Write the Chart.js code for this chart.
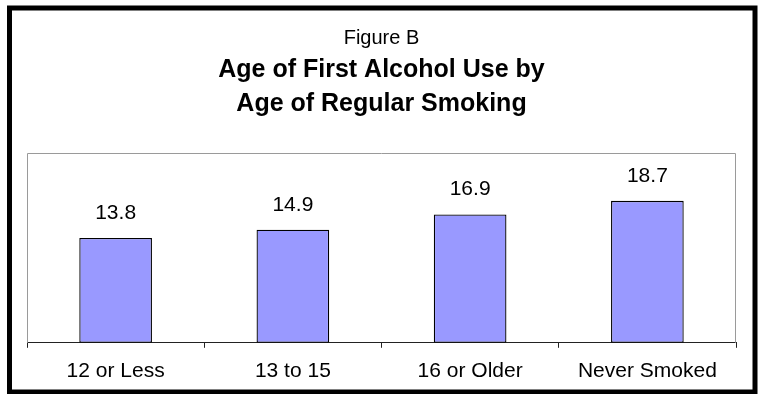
<!DOCTYPE html>
<html>
<head>
<meta charset="utf-8">
<script src="https://cdn.jsdelivr.net/npm/chart.js@4.4.1/dist/chart.umd.min.js"></script>
<style>
  html, body { margin: 0; padding: 0; background: #fff; }
  #wrap { width: 767px; height: 394px; }
</style>
</head>
<body>
<div id="wrap"><canvas id="c" width="767" height="394"></canvas></div>
<script>
// Age at first alcohol use, grouped by the age regular smoking began
const categories = ['12 or Less', '13 to 15', '16 or Older', 'Never Smoked'];
const ageFirstAlcohol = [13.8, 14.9, 16.9, 18.7];
const figureLabel = 'Figure B';
const titleLines = ['Age of First Alcohol Use by', 'Age of Regular Smoking'];

const FONT = "'Liberation Sans', Arial, sans-serif";

// White page, thick black outer frame and grey plot frame
const framePlugin = {
  id: 'frame',
  beforeDraw(chart) {
    const ctx = chart.ctx;
    ctx.save();
    ctx.fillStyle = '#fff';
    ctx.fillRect(0, 0, chart.width, chart.height);
    ctx.restore();
  },
  afterDatasetsDraw(chart) {
    const { ctx, chartArea: a } = chart;
    ctx.save();
    ctx.strokeStyle = '#9a9a9a';
    ctx.lineWidth = 1;
    ctx.beginPath();
    ctx.moveTo(a.left + 0.5, a.bottom);
    ctx.lineTo(a.left + 0.5, a.top + 0.5);
    ctx.lineTo(a.right - 0.5, a.top + 0.5);
    ctx.lineTo(a.right - 0.5, a.bottom);
    ctx.stroke();
    ctx.restore();
  },
  afterDraw(chart) {
    const ctx = chart.ctx;
    ctx.save();
    ctx.strokeStyle = '#000';
    ctx.lineWidth = 5;
    ctx.strokeRect(9.5, 8, 745.5, 384);
    ctx.restore();
  }
};

// Value printed above each bar
const valueLabels = {
  id: 'valueLabels',
  afterDatasetsDraw(chart) {
    const ctx = chart.ctx;
    const meta = chart.getDatasetMeta(0);
    const values = chart.data.datasets[0].data;
    ctx.save();
    ctx.font = '21px ' + FONT;
    ctx.fillStyle = '#000';
    ctx.textAlign = 'center';
    ctx.textBaseline = 'alphabetic';
    meta.data.forEach((bar, i) => {
      ctx.fillText(values[i].toFixed(1), bar.x, bar.y - 19);
    });
    ctx.restore();
  }
};

new Chart(document.getElementById('c'), {
  type: 'bar',
  data: {
    labels: categories,
    datasets: [{
      data: ageFirstAlcohol,
      backgroundColor: '#9999ff',
      borderColor: '#000',
      borderWidth: 1.3,
      borderSkipped: false,
      categoryPercentage: 1,
      barPercentage: 0.41
    }]
  },
  options: {
    responsive: false,
    animation: false,
    devicePixelRatio: 1,
    layout: { padding: { left: 27, right: 31, top: 0, bottom: -1 } },
    plugins: {
      legend: { display: false },
      tooltip: { enabled: false },
      title: {
        display: true,
        text: figureLabel,
        color: '#000',
        font: { family: FONT, size: 20, weight: 'normal', lineHeight: 1.2 },
        padding: { top: 26, bottom: 3 }
      },
      subtitle: {
        display: true,
        text: titleLines,
        color: '#000',
        font: { family: FONT, size: 25, weight: 'bold', lineHeight: 1.36 },
        padding: { top: 0, bottom: 32 }
      }
    },
    scales: {
      x: {
        offset: true,
        grid: {
          offset: true,
          drawOnChartArea: false,
          drawTicks: true,
          tickLength: 5,
          color: '#222',
          lineWidth: 1
        },
        border: { display: true, color: '#222', width: 1 },
        ticks: {
          color: '#000',
          padding: 11,
          maxRotation: 0,
          font: { family: FONT, size: 21, lineHeight: 1.2 }
        }
      },
      y: {
        display: false,
        min: 0,
        max: 25
      }
    }
  },
  plugins: [framePlugin, valueLabels]
});
</script>
</body>
</html>
